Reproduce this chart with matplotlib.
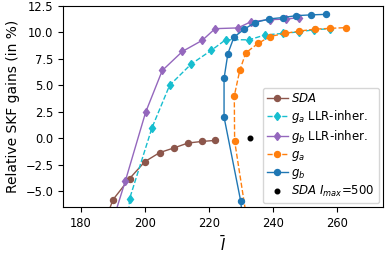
import numpy as np
import matplotlib.pyplot as plt

# SDA
sda_x = [185.0, 190.1, 195.3, 200.1, 204.7, 209.3, 213.5, 217.9, 222.1]
sda_y = [-10.0, -5.8, -3.8, -2.2, -1.35, -0.9, -0.45, -0.3, -0.2]

# g_a LLR-inher.
ga_llr_x = [194.5, 195.3, 202.3, 207.8, 214.5, 220.8, 225.3, 232.7, 237.5, 243.2, 248.3, 253.0, 258.0]
ga_llr_y = [-9.0, -5.7, 1.0, 5.0, 7.0, 8.3, 9.3, 9.3, 9.75, 9.9, 10.05, 10.25, 10.35]

# g_b LLR-inher.
gb_llr_x = [188.5, 194.0, 200.3, 205.5, 211.8, 218.0, 222.0, 229.1, 233.2, 239.0, 244.1, 248.3]
gb_llr_y = [-9.3, -4.0, 2.45, 6.4, 8.2, 9.25, 10.35, 10.42, 11.0, 11.2, 11.25, 11.4]

# g_a
ga_x = [232.5, 228.1, 228.0, 229.7, 231.6, 235.4, 239.1, 243.7, 248.3, 253.1, 258.0, 263.0]
ga_y = [-8.8, -0.25, 4.0, 6.4, 8.07, 8.95, 9.6, 9.9, 10.12, 10.3, 10.38, 10.45]

# g_b
gb_x = [231.0, 230.0, 224.8, 224.8, 226.0, 227.9, 231.1, 234.5, 238.9, 243.2, 247.4, 251.9, 256.6]
gb_y = [-9.0, -5.93, 2.0, 5.65, 8.0, 9.55, 10.3, 10.93, 11.27, 11.4, 11.58, 11.65, 11.7]

# SDA I_max=500
sda500_x = [233.0]
sda500_y = [0.0]

fig = plt.figure(figsize=(3.89, 2.56), dpi=100)
ax = fig.add_axes([0.162, 0.191, 0.823, 0.786])

ax.plot(sda_x, sda_y, '-o', color='#8c564b', ms=4.3, lw=1, label='$SDA$')
ax.plot(ga_llr_x, ga_llr_y, '--d', color='#17becf', ms=4.3, lw=1, label='$g_a$ LLR-inher.')
ax.plot(gb_llr_x, gb_llr_y, '-d', color='#9467bd', ms=4.3, lw=1, label='$g_b$ LLR-inher.')
ax.plot(ga_x, ga_y, '--o', color='#ff7f0e', ms=4.3, lw=1, label='$g_a$')
ax.plot(gb_x, gb_y, '-o', color='#1f77b4', ms=4.3, lw=1, label='$g_b$')
ax.plot(sda500_x, sda500_y, 'o', color='black', ms=3.3, lw=0, label='$SDA$ $I_{max}$=500')

ax.set_xlim(174.5, 274.5)
ax.set_ylim(-6.5, 12.5)
ax.set_xticks([180, 200, 220, 240, 260])
ax.set_yticks([-5.0, -2.5, 0.0, 2.5, 5.0, 7.5, 10.0, 12.5])
ax.tick_params(labelsize=8.3)
ax.set_xlabel(r'$\bar{I}$', fontsize=10.5)
ax.set_ylabel('Relative SKF gains (in %)', fontsize=10)
ax.legend(loc='lower right', fontsize=8.5, handlelength=1.8, handletextpad=0.3,
          labelspacing=0.25, borderpad=0.35, borderaxespad=0.35)

fig.savefig('out.png', dpi=100)
